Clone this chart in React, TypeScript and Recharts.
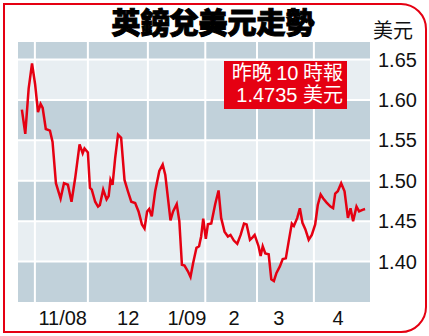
import React from "react";
import {
  LineChart, Line, XAxis, YAxis, ReferenceArea, ReferenceLine,
} from "recharts";

// trading-day index (from late Oct 2008) and GBP/USD rate
const days = [
  0, 1.3, 2.6, 3.9, 5.1, 6.2, 7.2, 8, 9.2, 10.8, 11.8, 13.1, 14.9, 16.2, 17.7, 19.1, 20.5, 22.2,
  23.4, 24.1, 25.4, 26.2, 26.9, 28.2, 29.3, 30.0, 31.3, 32.6, 33.4, 34.1, 34.9, 35.9, 37.0, 38.2,
  39.5, 40.8, 42.1, 43.6, 44.9, 46.2, 47.2, 48.2, 49.0, 50.0, 51.3, 52.9, 54.2, 55.2, 56.2, 57.2,
  58.2, 59.6, 60.6, 61.6, 62.6, 63.9, 64.9, 65.9, 67.2, 68.2, 69.0, 69.8, 70.8, 71.6, 72.9, 74.4,
  75.7, 76.7, 78.0, 79.3, 80.3, 81.6, 82.9, 84.2, 85.5, 86.5, 87.8, 88.8, 89.6, 91.1, 91.9, 92.7,
  93.7, 95.0, 96.0, 97.0, 98.0, 99.3, 100.4, 101.6, 102.7, 103.9, 104.7, 106.0, 107.0, 108.0,
  109.1, 110.4, 111.6, 112.9, 113.9, 115.0, 116.0, 117.3, 118.8, 119.8, 120.6, 121.6, 122.9,
  124.2, 125.5, 126.5, 127.5, 128.8, 129.8, 131.1, 132.1,
];
const rates = [
  1.588, 1.558, 1.614, 1.645, 1.619, 1.585, 1.595, 1.590, 1.564, 1.562, 1.548, 1.497, 1.478, 1.497, 1.495, 1.474, 1.503, 1.545,
  1.534, 1.540, 1.535, 1.491, 1.489, 1.474, 1.468, 1.470, 1.489, 1.477, 1.481, 1.501, 1.495, 1.528, 1.557, 1.553,
  1.501, 1.487, 1.474, 1.4725, 1.462, 1.446, 1.441, 1.462, 1.465, 1.456, 1.487, 1.512, 1.520, 1.507, 1.479, 1.451,
  1.462, 1.471, 1.450, 1.396, 1.395, 1.388, 1.381, 1.398, 1.417, 1.419, 1.431, 1.453, 1.428, 1.446, 1.447, 1.471,
  1.488, 1.454, 1.437, 1.431, 1.433, 1.426, 1.422, 1.433, 1.447, 1.446, 1.427, 1.430, 1.433, 1.419, 1.407, 1.419,
  1.410, 1.409, 1.378, 1.376, 1.386, 1.394, 1.403, 1.404, 1.425, 1.447, 1.444, 1.454, 1.466, 1.448,
  1.440, 1.427, 1.433, 1.446, 1.470, 1.483, 1.478, 1.473, 1.468, 1.466, 1.484, 1.487, 1.497,
  1.487, 1.454, 1.466, 1.450, 1.468, 1.462, 1.464, 1.465,
];

const monthStarts = [5.0, 25.4, 48.5, 70.6, 90.5, 112.4];
const monthTicks = [15.7, 40.9, 63.5, 81.7, 98.9, 121.7];
const monthLabels = ["11/08", "12", "1/09", "2", "3", "4"];
const yTicks = [1.40, 1.45, 1.50, 1.55, 1.60, 1.65];
const yMin = 1.35;
const yMax = 1.6716;

const DARK = "#c1d1da";
const LIGHT = "#e8eef2";
const RED = "#e50012";
const FONT = "'Liberation Sans', Arial, 'Noto Sans CJK TC', sans-serif";

const data = days.map((d, i) => ({ day: d, rate: rates[i] }));
const bandEdges = [yMin, ...yTicks, yMax];

export default function App() {
  return (
    <div style={{ position: "absolute", left: 0, top: 0, width: 429, height: 336, background: "#fff", fontFamily: FONT }}>
      <LineChart
        width={429}
        height={336}
        data={data}
        margin={{ top: 42, right: 0, bottom: 0, left: 18 }}
        style={{ position: "absolute", left: 0, top: 0 }}
      >
        {bandEdges.slice(0, -1).map((v, i) => (
          <ReferenceArea
            key={`b${i}`}
            y1={v}
            y2={bandEdges[i + 1]}
            fill={i % 2 === 0 ? DARK : LIGHT}
            fillOpacity={1}
            stroke="none"
            ifOverflow="hidden"
          />
        ))}
        {yTicks.map((v) => (
          <ReferenceLine key={`h${v}`} y={v} stroke="#fff" strokeWidth={2} />
        ))}
        {monthStarts.map((d) => (
          <ReferenceLine key={`v${d}`} x={d} stroke="#fff" strokeWidth={2} />
        ))}
        <XAxis
          dataKey="day"
          type="number"
          domain={[-1.5, 134]}
          ticks={monthTicks}
          tickFormatter={(v) => monthLabels[monthTicks.indexOf(v)] ?? ""}
          interval={0}
          height={34}
          axisLine={false}
          tickLine={false}
          tickSize={0}
          tickMargin={9}
          tick={{ fontSize: 20, fill: "#111", fontFamily: FONT }}
          allowDataOverflow
        />
        <YAxis
          orientation="right"
          type="number"
          domain={[yMin, yMax]}
          ticks={yTicks}
          tickFormatter={(v) => v.toFixed(2)}
          width={59}
          axisLine={false}
          tickLine={false}
          tickSize={0}
          tickMargin={8}
          tick={{ fontSize: 20, fill: "#111", fontFamily: FONT, textAnchor: "start" }}
          allowDataOverflow
        />
        <Line
          type="linear"
          dataKey="rate"
          stroke={RED}
          strokeWidth={2.5}
          dot={false}
          isAnimationActive={false}
        />
      </LineChart>

      <div
        style={{
          position: "absolute", left: 0, width: 426, top: 0, textAlign: "center",
          fontFamily: "'Noto Sans CJK TC', sans-serif", fontSize: 29,
          fontWeight: 900, color: "#000", WebkitTextStroke: "1px #000",
        }}
      >
        英鎊兌美元走勢
      </div>
      <div
        style={{
          position: "absolute", left: 373, top: 18, fontSize: 20, lineHeight: "24px",
          fontFamily: "'Noto Sans CJK TC', sans-serif", color: "#111",
        }}
      >
        美元
      </div>

      <div
        style={{
          position: "absolute", left: 224, top: 61, width: 123, height: 48, background: RED,
          color: "#fff", fontSize: 20, lineHeight: "21.5px", textAlign: "right",
          boxSizing: "border-box", paddingTop: 2, paddingRight: 4, fontFamily: FONT,
        }}
      >
        <div style={{ wordSpacing: -1 }}>昨晚 10 時報</div>
        <div>1.4735 美元</div>
      </div>

      <div
        style={{
          position: "absolute", left: 3, top: 3, width: 424, height: 330, boxSizing: "border-box",
          border: `2px solid ${RED}`, borderRadius: "0 26px 26px 0", pointerEvents: "none",
        }}
      />
    </div>
  );
}
